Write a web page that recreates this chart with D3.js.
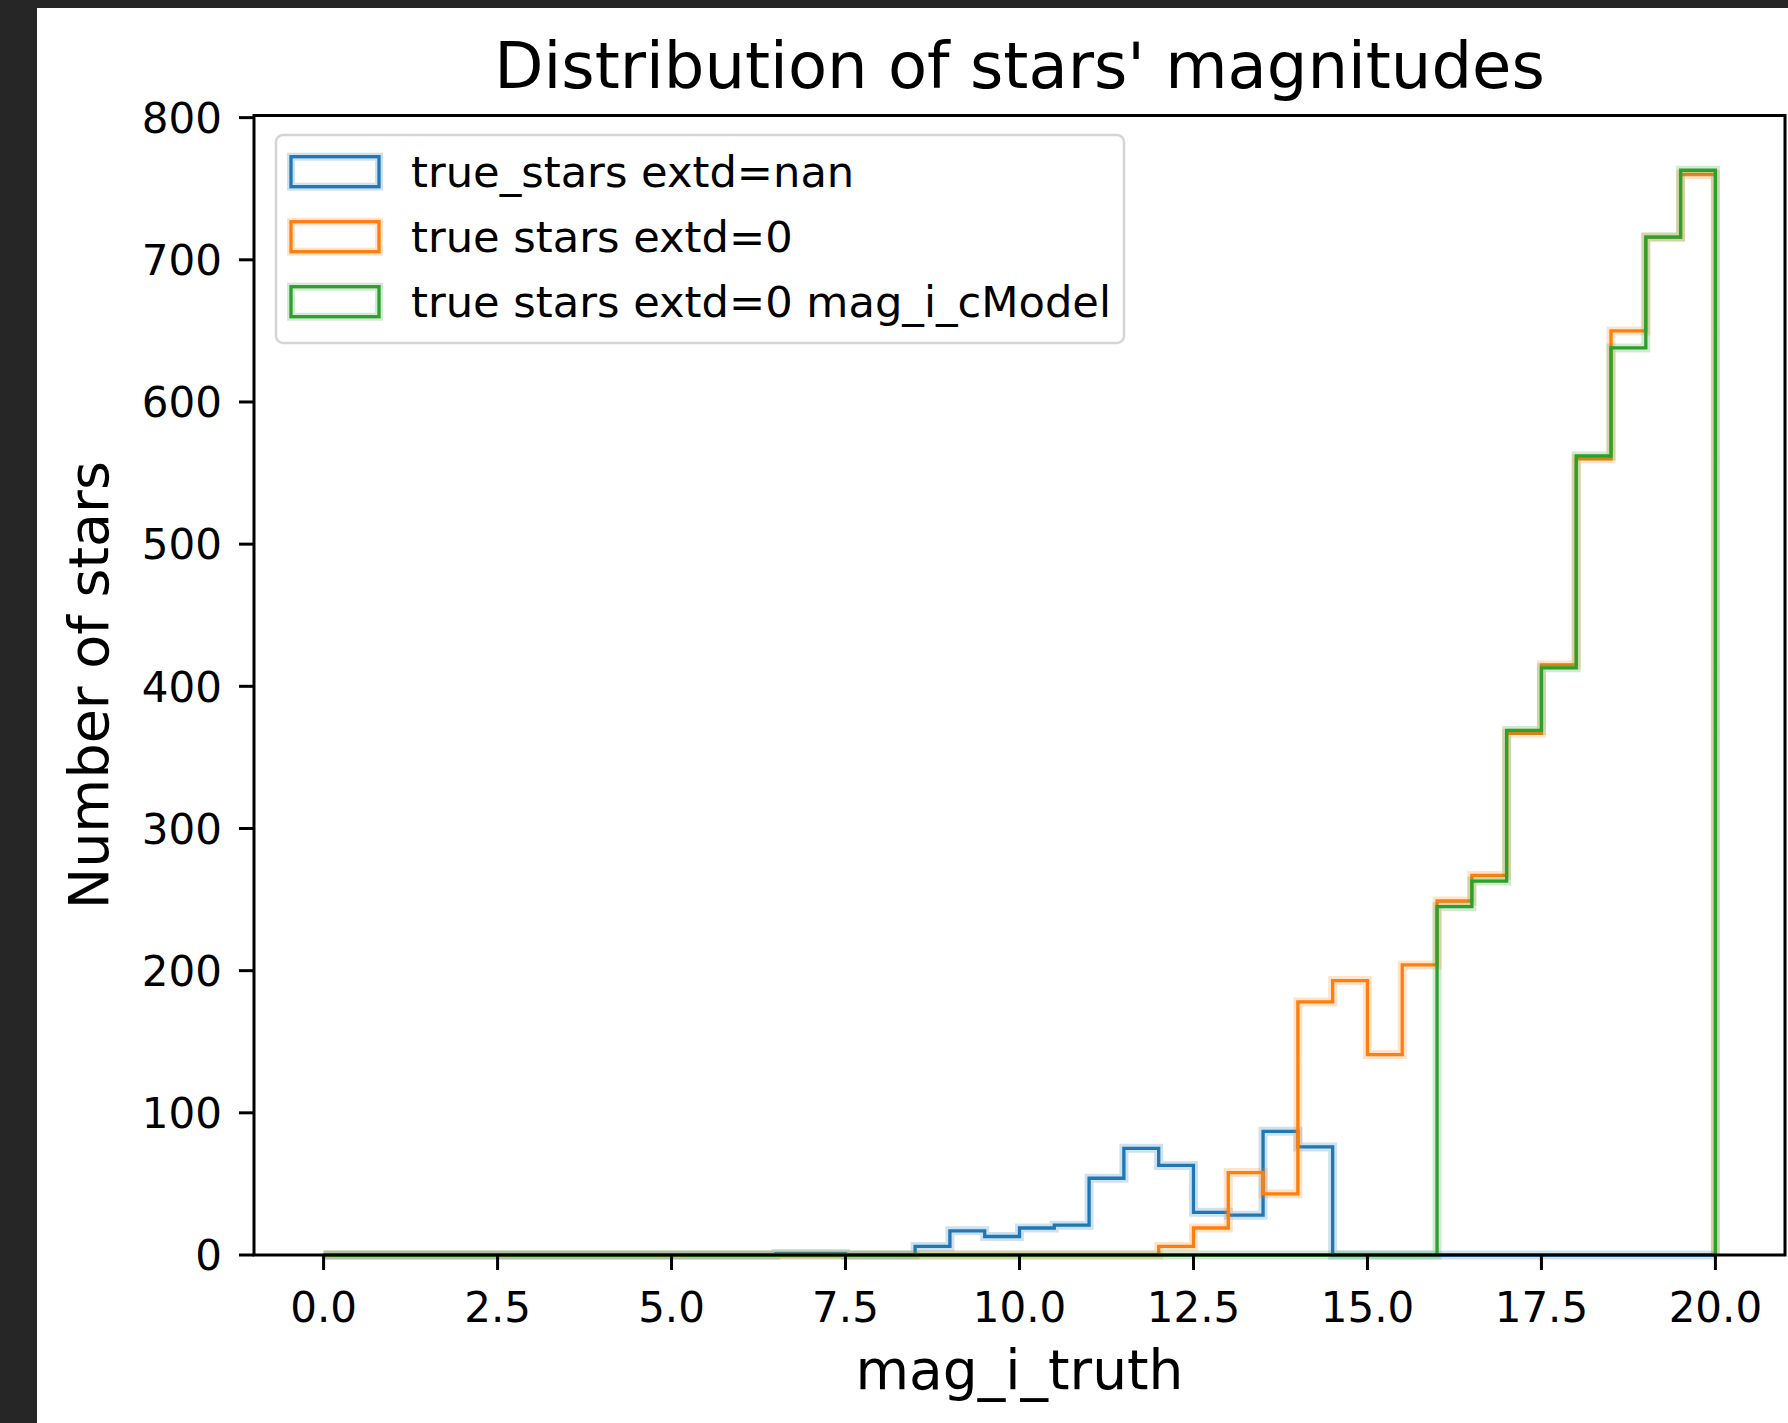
<!DOCTYPE html>
<html>
<head>
<meta charset="utf-8">
<script src="https://cdn.jsdelivr.net/npm/d3@7"></script>
<style>
  html, body { margin: 0; padding: 0; background: #262626; }
  svg { display: block; }
  text { font-family: "DejaVu Sans", sans-serif; fill: #000; }
</style>
</head>
<body>
<svg id="chart" width="1788" height="1423"></svg>
<script>
// ---- data ----
const binEdges = [0, 0.5, 1, 1.5, 2, 2.5, 3, 3.5, 4, 4.5, 5, 5.5, 6, 6.5, 7, 7.5, 8, 8.5, 9, 9.5,
                  10, 10.5, 11, 11.5, 12, 12.5, 13, 13.5, 14, 14.5, 15, 15.5, 16, 16.5, 17, 17.5, 18, 18.5, 19, 19.5, 20];
const seriesNames = ["true_stars extd=nan", "true stars extd=0", "true stars extd=0 mag_i_cModel"];
const countsNan = [0, 0, 0, 0, 0, 0, 0, 0, 0, 0, 0, 0, 0, 1, 1, 0, 0, 6, 17, 13,
                   19, 21, 54, 75, 63, 30, 28, 87, 76, 0, 0, 0, 0, 0, 0, 0, 0, 0, 0, 0];
const countsExtd0 = [0, 0, 0, 0, 0, 0, 0, 0, 0, 0, 0, 0, 0, 0, 0, 0, 0, 0, 0, 0,
                     0, 0, 0, 0, 6, 19, 58, 43, 178, 193, 141, 204, 249, 267, 367, 415, 560, 650, 716, 760];
const countsCModel = [0, 0, 0, 0, 0, 0, 0, 0, 0, 0, 0, 0, 0, 0, 0, 0, 0, 0, 0, 0,
                      0, 0, 0, 0, 0, 0, 0, 0, 0, 0, 0, 0, 245, 263, 369, 413, 562, 638, 716, 763];
const xTicks = [0, 2.5, 5, 7.5, 10, 12.5, 15, 17.5, 20];
const yTicks = [0, 100, 200, 300, 400, 500, 600, 700, 800];
const colors = ["#1f77b4", "#ff7f0e", "#2ca02c"];
const titleText = "Distribution of stars' magnitudes";
const xLabelText = "mag_i_truth";
const yLabelText = "Number of stars";

// ---- layout ----
const W = 1788, H = 1423;
const plot = { left: 254, right: 1785, top: 115.5, bottom: 1255 };
const svg = d3.select("#chart");

svg.append("rect").attr("x", 0).attr("y", 0).attr("width", W).attr("height", H).attr("fill", "#262626");
svg.append("rect").attr("x", 37).attr("y", 8).attr("width", W - 37).attr("height", H - 8).attr("fill", "#ffffff");

const x = d3.scaleLinear().domain([-1, 21]).range([plot.left, plot.right]);
const y = d3.scaleLinear().domain([0, 801.5]).range([plot.bottom, plot.top]);

// ---- histograms (step outlines) ----
function stepPoints(counts) {
  const pts = [[binEdges[0], 0]];
  counts.forEach((c, i) => { pts.push([binEdges[i], c]); pts.push([binEdges[i + 1], c]); });
  pts.push([binEdges[binEdges.length - 1], 0]);
  return pts;
}
const line = d3.line().x(d => x(d[0])).y(d => y(d[1]));
const allSeries = [countsNan, countsExtd0, countsCModel];
const gHist = svg.append("g");
allSeries.forEach((counts, i) => {
  const d = line(stepPoints(counts));
  gHist.append("path").attr("d", d).attr("fill", "none").attr("stroke", colors[i])
    .attr("stroke-opacity", 0.22).attr("stroke-width", 9).attr("stroke-linejoin", "miter");
  gHist.append("path").attr("d", d).attr("fill", "none").attr("stroke", colors[i])
    .attr("stroke-width", 3.3).attr("stroke-linejoin", "miter");
});

// ---- spines ----
svg.append("rect").attr("x", plot.left).attr("y", plot.top)
  .attr("width", plot.right - plot.left).attr("height", plot.bottom - plot.top)
  .attr("fill", "none").attr("stroke", "#000").attr("stroke-width", 3);

// ---- axes ----
const fsTick = 42;
const xAxis = svg.append("g");
xTicks.forEach(t => {
  xAxis.append("line").attr("x1", x(t)).attr("x2", x(t)).attr("y1", plot.bottom).attr("y2", plot.bottom + 15)
    .attr("stroke", "#000").attr("stroke-width", 3);
  xAxis.append("text").attr("x", x(t)).attr("y", 1322).attr("text-anchor", "middle")
    .attr("font-size", fsTick).text(d3.format(".1f")(t));
});
const yAxis = svg.append("g");
yTicks.forEach(t => {
  yAxis.append("line").attr("x1", plot.left - 15).attr("x2", plot.left).attr("y1", y(t)).attr("y2", y(t))
    .attr("stroke", "#000").attr("stroke-width", 3);
  yAxis.append("text").attr("x", 222).attr("y", y(t) + 15.2).attr("text-anchor", "end")
    .attr("font-size", fsTick).text(t);
});

// ---- labels ----
svg.append("text").attr("x", (plot.left + plot.right) / 2).attr("y", 88).attr("text-anchor", "middle")
  .attr("font-size", 64).text(titleText);
svg.append("text").attr("x", (plot.left + plot.right) / 2).attr("y", 1389).attr("text-anchor", "middle")
  .attr("font-size", 55).text(xLabelText);
svg.append("text").attr("transform", `translate(108, ${(plot.top + plot.bottom) / 2}) rotate(-90)`)
  .attr("text-anchor", "middle").attr("font-size", 55.5).text(yLabelText);

// ---- legend ----
const leg = svg.append("g");
leg.append("rect").attr("x", 276).attr("y", 135).attr("width", 848).attr("height", 208)
  .attr("rx", 7).attr("ry", 7).attr("fill", "#ffffff").attr("fill-opacity", 0.8)
  .attr("stroke", "#d5d5d5").attr("stroke-width", 2.5);
seriesNames.forEach((name, i) => {
  const cy = 171.7 + i * 65;
  leg.append("rect").attr("x", 291).attr("y", cy - 15).attr("width", 88).attr("height", 30)
    .attr("fill", "none").attr("stroke", colors[i]).attr("stroke-opacity", 0.22).attr("stroke-width", 8);
  leg.append("rect").attr("x", 291).attr("y", cy - 15).attr("width", 88).attr("height", 30)
    .attr("fill", "none").attr("stroke", colors[i]).attr("stroke-width", 3.3);
  leg.append("text").attr("x", 411).attr("y", cy + 15.5).attr("font-size", 43.2).text(name);
});
</script>
</body>
</html>
